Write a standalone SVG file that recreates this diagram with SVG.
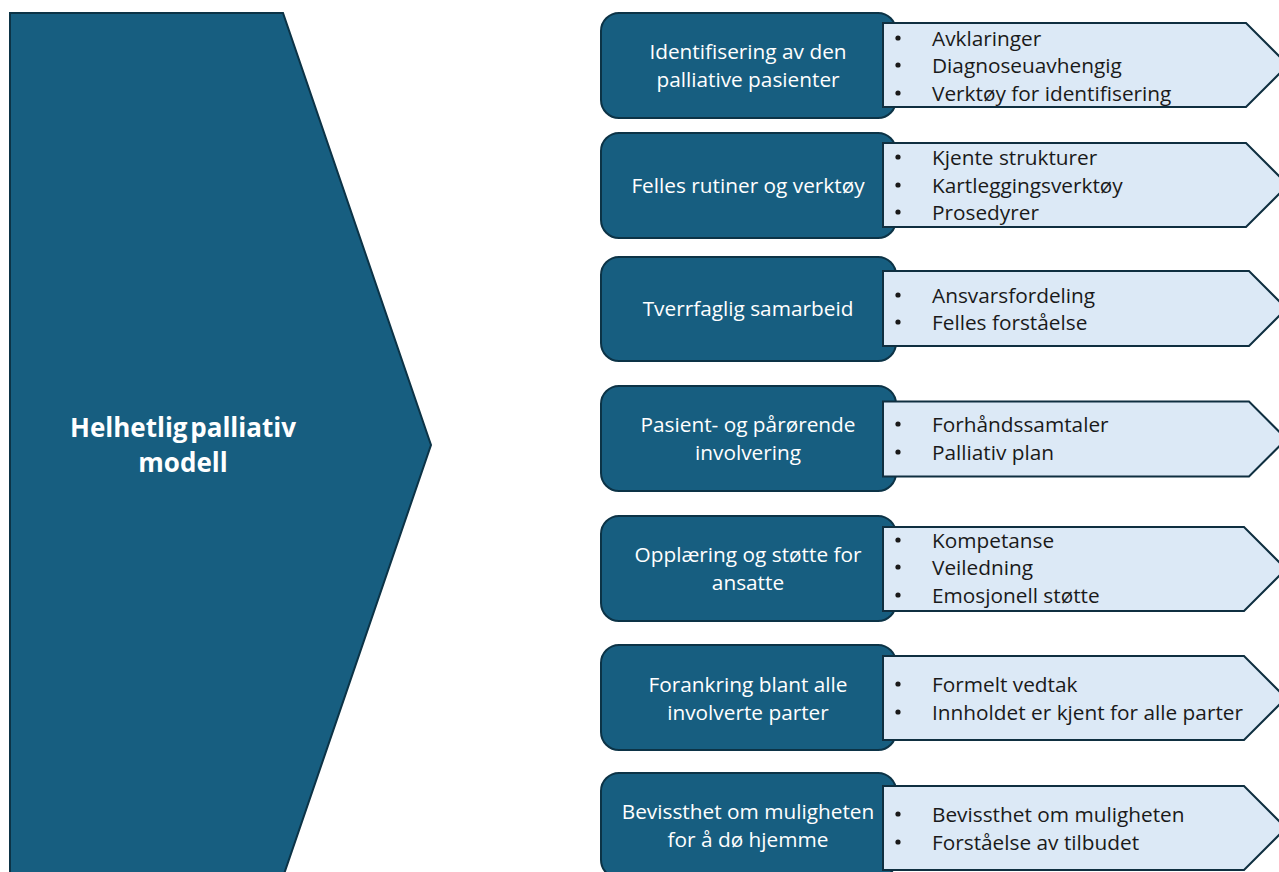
<svg xmlns="http://www.w3.org/2000/svg" width="1279" height="872" viewBox="0 0 1279 872">
  <style>
    .chev { fill: #175E80; stroke: #0C3346; stroke-width: 2; }
    .box { fill: #175E80; stroke: #0C3346; stroke-width: 2; }
    .tag { fill: #DCE9F6; stroke: #0F2F40; stroke-width: 2; stroke-linejoin: miter; }
    .title { font-family: "Open Sans", "Liberation Sans", sans-serif; font-weight: bold; font-size: 26px; fill: #FFFFFF; text-anchor: middle; }
    .lbl { font-family: "Open Sans", "Liberation Sans", sans-serif; font-size: 20.8px; fill: #FFFFFF; text-anchor: middle; dominant-baseline: central; }
    .item { font-family: "Open Sans", "Liberation Sans", sans-serif; font-size: 20.8px; fill: #1A1A1A; dominant-baseline: central; }
    .dot { fill: #1A1A1A; }
  </style>

  <!-- main chevron -->
  <g id="model">
    <polygon class="chev" points="10,13 283,13 431,445 283,877 10,877"/>
    <text class="title" x="183" y="437" word-spacing="-4">Helhetlig palliativ</text>
    <text class="title" x="183" y="472">modell</text>
  </g>

  <g id="connectors"></g>

  <!-- row 1 -->
  <g id="identifisering">
    <rect class="box" x="601" y="13" width="295" height="105" rx="18"/>
    <text class="lbl" x="748" y="51">Identifisering av den</text>
    <text class="lbl" x="748" y="79">palliative pasienter</text>
    <polygon class="tag" points="883,23 1246,23 1288,65 1246,107 883,107"/>
    <circle class="dot" cx="898" cy="38" r="2.6"/><text class="item" x="932" y="38">Avklaringer</text>
    <circle class="dot" cx="898" cy="65" r="2.6"/><text class="item" x="932" y="65">Diagnoseuavhengig</text>
    <circle class="dot" cx="898" cy="93" r="2.6"/><text class="item" x="932" y="93">Verktøy for identifisering</text>
  </g>

  <!-- row 2 -->
  <g id="rutiner">
    <rect class="box" x="601" y="133" width="295" height="105" rx="18"/>
    <text class="lbl" x="748" y="185">Felles rutiner og verktøy</text>
    <polygon class="tag" points="883,143 1246,143 1288,185 1246,227 883,227"/>
    <circle class="dot" cx="898" cy="157" r="2.6"/><text class="item" x="932" y="157">Kjente strukturer</text>
    <circle class="dot" cx="898" cy="185" r="2.6"/><text class="item" x="932" y="185">Kartleggingsverktøy</text>
    <circle class="dot" cx="898" cy="212" r="2.6"/><text class="item" x="932" y="212">Prosedyrer</text>
  </g>

  <!-- row 3 -->
  <g id="samarbeid">
    <rect class="box" x="601" y="257" width="295" height="104" rx="18"/>
    <text class="lbl" x="748" y="308">Tverrfaglig samarbeid</text>
    <polygon class="tag" points="883,271 1249,271 1286.5,308.5 1249,346 883,346"/>
    <circle class="dot" cx="898" cy="295" r="2.6"/><text class="item" x="932" y="295">Ansvarsfordeling</text>
    <circle class="dot" cx="898" cy="322" r="2.6"/><text class="item" x="932" y="322">Felles forståelse</text>
  </g>

  <!-- row 4 -->
  <g id="involvering">
    <rect class="box" x="601" y="386" width="295" height="105" rx="18"/>
    <text class="lbl" x="748" y="424">Pasient- og pårørende</text>
    <text class="lbl" x="748" y="452">involvering</text>
    <polygon class="tag" points="883,401.5 1249,401.5 1286.5,439 1249,476.5 883,476.5"/>
    <circle class="dot" cx="898" cy="424" r="2.6"/><text class="item" x="932" y="424">Forhåndssamtaler</text>
    <circle class="dot" cx="898" cy="452" r="2.6"/><text class="item" x="932" y="452">Palliativ plan</text>
  </g>

  <!-- row 5 -->
  <g id="opplaering">
    <rect class="box" x="601" y="516" width="295" height="105" rx="18"/>
    <text class="lbl" x="748" y="554">Opplæring og støtte for</text>
    <text class="lbl" x="748" y="582">ansatte</text>
    <polygon class="tag" points="883,527 1244,527 1286,569 1244,611 883,611"/>
    <circle class="dot" cx="898" cy="540" r="2.6"/><text class="item" x="932" y="540">Kompetanse</text>
    <circle class="dot" cx="898" cy="567" r="2.6"/><text class="item" x="932" y="567">Veiledning</text>
    <circle class="dot" cx="898" cy="595" r="2.6"/><text class="item" x="932" y="595">Emosjonell støtte</text>
  </g>

  <!-- row 6 -->
  <g id="forankring">
    <rect class="box" x="601" y="645" width="295" height="105" rx="18"/>
    <text class="lbl" x="748" y="684">Forankring blant alle</text>
    <text class="lbl" x="748" y="712">involverte parter</text>
    <polygon class="tag" points="883,656 1244,656 1286,698 1244,740 883,740"/>
    <circle class="dot" cx="898" cy="684" r="2.6"/><text class="item" x="932" y="684">Formelt vedtak</text>
    <circle class="dot" cx="898" cy="712" r="2.6"/><text class="item" x="932" y="712">Innholdet er kjent for alle parter</text>
  </g>

  <!-- row 7 -->
  <g id="hjemme">
    <rect class="box" x="601" y="773" width="295" height="105" rx="18"/>
    <text class="lbl" x="748" y="811">Bevissthet om muligheten</text>
    <text class="lbl" x="748" y="839">for å dø hjemme</text>
    <polygon class="tag" points="883,786 1244,786 1286,828 1244,870 883,870"/>
    <circle class="dot" cx="898" cy="814" r="2.6"/><text class="item" x="932" y="814">Bevissthet om muligheten</text>
    <circle class="dot" cx="898" cy="842" r="2.6"/><text class="item" x="932" y="842">Forståelse av tilbudet</text>
  </g>
</svg>
